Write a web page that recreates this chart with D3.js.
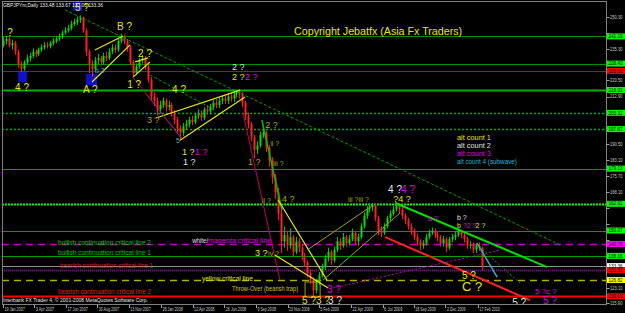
<!DOCTYPE html>
<html><head><meta charset="utf-8">
<script src="https://cdn.jsdelivr.net/npm/d3@7/dist/d3.min.js"></script>
<style>
html,body{margin:0;padding:0;background:#000;}
svg{display:block;}
text{font-family:"Liberation Sans",Arial,sans-serif;}
</style></head><body>
<svg id="c" width="625" height="313"></svg>
<script>
// ---------- DATA ----------
const symbolTitle = "GBPJPYm,Daily  133.48 133.67 133.03 133.36";
const footerText = "Interbank FX Trader 4, \u00a9 2001-2008 MetaQuotes Software Corp.";
const copyrightText = "Copyright Jebatfx (Asia Fx Traders)";
const startDate = "2007-01-19";   // first weekly bar
const lastTickDate = "2010-02-17";
const firstOpen = 237;
// weekly bars
const closes = [239,240,237,238,234,228,226,229,231,232, 234,233,235,236,237,236.5,238,239,240,241,
 243,244,245,247,248,249,250,244,234,228, 226,230,231,229,232,231,234,236,235,239,
 241,239,236,229,224,227,230,231,227,221, 213,211,207,209,211,208,209,205,202,198,
 196,199,200,202,201,204,205,203,207,206, 208,210,209,211,212,211,213,212,214,215,
 214,210,204,200,194,188,190,195,196,189, 183,175,168,158,145,148,143,147,140,145,
 142,138,135,130,127,122,126,129,133,137, 140,136,141,145,143,147,144,146,149,145,
 147,152,157,160,161,162,156,150,149,152, 156,158,160,162,160,157,155,152,150,147,
 145,143,144,147,149,150,148,147,144,146, 142,146,147,148,150,148,146,143,143.5,141,
 143,142,133.36];
const highs = [241,241.5,241,239.5,239,235,229.5,230,232.5,233.5, 235.5,235,236,237.5,238.5,238.5,239,240.5,241.5,242.5,
 244,245.5,246.5,248.5,249.5,250.5,251.1,250.5,245,235, 230,231.5,233,232,233.5,234,235.5,237.5,237.5,240,
 242.5,242,240,237,230,228.5,231,232.5,232,228, 222,215,212.5,211,212.5,212,211,210,206.5,203.5,
 199.5,200.5,202,203.5,204,205,207,206.5,208,209, 209.5,211.5,212,212.5,213.5,214,214.5,215,215.5,216,
 216.5,215,211,205.5,201,195,192,196.5,198,197, 190,184.5,176.5,170,160,152,150,151,148,147,
 146.5,143.5,139.5,136,132,128,127.5,130.5,134.5,138.5, 142,141,142.5,147,146.5,149,148,148,151,150,
 148.5,153.5,158.5,161.5,162.5,163,162.5,157,152,153.5, 157,159.5,161.5,163,162.5,161,158,156,153.5,151,
 148.5,146,145.5,148.5,150.5,151.5,151,149.5,148,147.5, 147,147,148.5,149.5,151,150.5,149,147,145,144.5,
 144,144.5,142.5];
const lows = [236,237.5,236,235,232.5,226.5,224.5,225,228,229.5, 231,231.5,232,234,235,235.5,235.5,237,238,239,
 240,242,243,244,246,246.5,247.5,243,232,224, 222,225,228,227.5,228,229.5,230,233,233.5,234,
 238,237.5,234,227.5,222,223,226,228.5,225.5,219.5, 211,208.5,204,205,207.5,206,206.5,203.5,200,196,
 192.5,194.5,197.5,198.5,199.5,200,202.5,201.5,202,204.5, 204.5,206.5,207.5,207.5,209.5,209.5,209.5,210.5,210.5,212.5,
 212,208,202,198,192,184,186,189,193.5,187, 180,172,165,155,139.5,142,140.5,141.5,138,139,
 140,136,133,128,125,119,120.5,124.5,128,131.5, 135.5,134,135,140,141,142,142.5,143,145,143.5,
 143,146,151,155.5,158.5,159,154.5,148,147,148, 151,154.5,157,159,158,155.5,153,150.5,148,145.5,
 143,141,141.5,143,146,148,146.5,145,142.5,142.5, 140,141,144.5,145.5,147,146.5,144.5,141.5,141.5,139.5,
 139.5,140.5,131.3];
const priceTicks = [250.30,242.80,235.30,227.90,220.50,212.90,205.50,198.00,190.50,183.10,175.70,168.10,160.70,153.10,145.70,138.30,130.70,123.10,115.90];
const dateTicks = ["2007-01-19","2007-04-03","2007-06-17","2007-08-30","2007-11-13","2008-01-28","2008-04-12","2008-06-26","2008-09-09","2008-11-23","2009-02-05","2009-04-22","2009-07-06","2009-09-18","2009-12-02","2010-02-17"];
// horizontal critical levels
const levelPrices = [241.19,228.43,225.00,216.03,205.32,197.67,179.13,162.61,150.07,143.76,138.16,133.36,131.52,126.82,119.19];
// trend lines [week1, price1, week2, price2]
const trendLines = [[21.0,253.6,188.5,143.3],[31.1,234.8,40.6,241.4],[30.1,219.8,43.0,237.2],[44.0,222.1,49.7,229.2],
 [44.7,229.2,49.1,231.1],[51.8,202.9,80.2,216.0],[59.9,192.5,81.9,212.7],[44.0,222.1,60.9,192.5],[48.7,213.7,60.9,192.5],
 [81.2,205.2,93.7,126.8],[87.6,201.9,94.4,159.7],[93.1,164.4,109.6,126.8],[92.0,138.6,110.0,123.1],[102.9,140.9,125.2,162.0],
 [108.3,126.8,134.3,158.3],[129.3,147.0,178.3,117.4],[132.7,163.0,184.1,132.9],[160.4,144.2,167.2,128.2],[111.7,123.1,168.2,140.9],
 [160.4,143.25,175.0,125.4],[49.7,223.1,71.7,206.6]];
// highlight boxes [week1, price1, week2, price2]
const blueBoxes = [[5.1,224.5,8.1,219.8],[23.7,257.3,26.7,253.1],[28.1,223.5,31.8,218.4]];
const throwOverBox = [102.2,125.9,107.3,118.8];
// wave count labels
const noteTexts = ["?","4 ?","5 ?","A ?","B ?","1 ?","2 ?","4 ?","3 ?","1 ?","1 ?","1 ?","2 ?","2 ?","2 ?","2 ?","1 ?","4 ?",
 "4 ?","4 ?","?4 ?","3 ?","5 ?3 ?","3 ?","3 ?","iv ?","5 ?","C ?","5 ?","5 ?","5 ?c ?","b ?","b","?2 ?","2 ?","a ?",
 "ii ?","iii ?","ii ?","iii ?iii ?","5","b 2"];
const noteAt = [[1.4,243.3],[4.1,217.4],[24.4,255.0],[27.1,216.5],[38.6,246.1],[42.0,218.8],[45.7,233.4],[57.2,216.5],[48.7,201.9],
 [60.6,186.9],[65.0,186.9],[60.9,182.2],[77.5,226.8],[77.5,222.1],[81.9,222.1],[88.7,199.6],[82.9,182.2],[94.4,164.8],
 [130.3,169.5],[134.7,169.5],[132.0,164.8],[109.6,122.6],[101.2,117.4],[110.0,117.4],[85.3,139.5],[89.7,139.5],
 [155.3,129.2],[155.3,124.0],[172.3,116.5],[182.7,117.4],[180.0,121.6],[153.6,156.4],[153.6,152.6],[155.6,152.6],[159.9,152.6],[143.8,155.9],
 [90.4,191.1],[91.4,181.7],[87.6,164.4],[116.7,164.8],[58.5,192.1],[31.1,225.4]];
// free text notes
const levelNotes = ["bullish continuation critical line 2","bullish continuation critical line 1","bearish continuation critical line 1",
 "bearish continuation critical line 2","yellow critical line","Throw-Over (bearish trap)","white/","magenta critical line"];
const levelNoteAt = [[18.6,144.6],[18.6,139.5],[19.3,133.4],[18.6,121.2],[67.3,127.7],[77.5,122.6],[64.0,145.1],[69.4,145.1]];
const legendTexts = ["alt count 1","alt count 2","alt count 3","alt count 4 (subwave)"];
const legendAt = [[153.6,193.5],[153.6,189.7],[153.6,186.0],[153.6,182.2]];
const copyrightAt = [98.5,243.7];

// ---------- STYLES ----------
const Y="#e6e600", O="#a8a800", Wt="#e0e0e0", M="#e000e0", Cy="#30b0d0";
const levelStyle = [ // [line color, width, dash, box color]
 ["#009000",1,null,"#00ff00"],["#009000",1,null,"#00ff00"],["#a01818",1,null,"#ff0000"],["#00b000",2,null,"#00ff00"],
 ["#00b000",1.3,"2 2","#00ff00"],["#00b000",1.3,"2 2","#00ff00"],["#00a000",1,null,"#00ff00"],["#00ff00",2,"2 1","#00ff00"],
 ["#00a000",1,null,"#00ff00"],["#c000c0",1.5,"7 5","#ff00ff"],["#00a000",1,null,"#00ff00"],["#909090",1,null,"#ffffff"],
 ["#8a00a0",2,"1 1","#ff0000"],["#b0b000",1.3,"7 5","#ffff00"],["#ff0000",2,null,"#ff0000"]];
const trendStyle = [["#00a000",1,"3 2"],[Y,1.2],[Y,1.2],[Y,1.2],[Y,1.2],[Y,1.2],[Y,1.2],["#c02020",0.8],["#c000c0",0.8],
 ["#c00060",1],["#00c000",1.5],[Y,1.2],[Y,1.2],["#a0a000",1],["#a0a000",1],["#ff2020",2],["#00e000",2],[Cy,1.5],
 ["#c000c0",1,"2 2"],["#00a000",1,"2 2"],["#00a000",1,"3 2"]];
const noteStyle = [[Y,10],[Y,10],[Y,10],[Y,10],[Y,10],[Y,10],[Y,10],[Y,10],[O,9],[Y,9],[M,9],[Wt,9],[Wt,9],[Y,9],[M,9],[O,9],[O,9],[O,9],
 [Wt,10],[M,10],[Y,9],[M,10],[Y,10],[Wt,10],[Y,9],[O,7],[Y,10],[Y,13],[Wt,10],[M,10],[M,8],[Wt,7],[Y,7],[M,7],[Y,7],[M,7],
 [O,7],[O,7],[O,7],[O,7],[Cy,7],[Cy,7]];
const levelNoteStyle = [["#00c000",93],["#00c000",93],["#e02020",93],["#e02020",93],[Y,51],["#c8c800",66],[Wt,16],[M,63]];
const legendStyle = [[Y,34],[Wt,34],[M,34],[Cy,60]];

// ---------- CHART ----------
const svg = d3.select("#c");
const parse = d3.timeParse("%Y-%m-%d");
const t0 = parse(startDate);
const x = d3.scaleTime().domain([t0, parse(lastTickDate)]).range([3, 478]);
const y = d3.scaleLinear().domain([115.9, 250.3]).range([303.3, 17]);
const wx = w => x(d3.timeHour.offset(t0, Math.round(w * 7 * 24)));
const P = {l:2, t:1, r:606, b:304};

svg.append("rect").attr("width",625).attr("height",313).attr("fill","#000");
svg.append("clipPath").attr("id","clip").append("rect")
  .attr("x",P.l).attr("y",P.t).attr("width",P.r-P.l).attr("height",P.b-P.t);
const g = svg.append("g").attr("clip-path","url(#clip)");

// blue boxes (background objects)
g.selectAll(".bb").data(blueBoxes).join("rect")
  .attr("x",d=>wx(d[0])).attr("y",d=>y(d[1]))
  .attr("width",d=>wx(d[2])-wx(d[0])).attr("height",d=>y(d[3])-y(d[1]))
  .attr("fill","#1010c8");

// horizontal levels
g.selectAll(".lv").data(levelPrices).join("line")
  .attr("x1",P.l).attr("x2",P.r).attr("y1",d=>Math.round(y(d))+0.5).attr("y2",d=>Math.round(y(d))+0.5)
  .attr("stroke",(d,i)=>levelStyle[i][0]).attr("stroke-width",(d,i)=>levelStyle[i][1])
  .attr("stroke-dasharray",(d,i)=>levelStyle[i][2]);

// candles
const bars = closes.map((c,i)=>({i, o: i===0 ? firstOpen : closes[i-1], c, h: highs[i], l: lows[i]}));
const cg = g.append("g");
cg.selectAll(".wick").data(bars).join("line")
  .attr("x1",d=>Math.round(wx(d.i))+0.5).attr("x2",d=>Math.round(wx(d.i))+0.5)
  .attr("y1",d=>y(d.h)).attr("y2",d=>y(d.l))
  .attr("stroke",d=>d.c>=d.o?"#00c800":"#ff1a1a").attr("stroke-width",1);
cg.selectAll(".body").data(bars).join("rect")
  .attr("x",d=>Math.round(wx(d.i))-0.5).attr("width",2)
  .attr("y",d=>y(Math.max(d.o,d.c))).attr("height",d=>Math.max(1,Math.abs(y(d.o)-y(d.c))))
  .attr("fill",d=>d.c>=d.o?"#00e000":"#ff2020");

// throw-over box
g.append("rect").attr("x",wx(throwOverBox[0])).attr("y",y(throwOverBox[1]))
  .attr("width",wx(throwOverBox[2])-wx(throwOverBox[0])).attr("height",y(throwOverBox[3])-y(throwOverBox[1]))
  .attr("fill","none").attr("stroke","#a0a000").attr("stroke-width",1);

// trend lines
g.selectAll(".tl").data(trendLines).join("line")
  .attr("x1",d=>wx(d[0])).attr("y1",d=>y(d[1])).attr("x2",d=>wx(d[2])).attr("y2",d=>y(d[3]))
  .attr("stroke",(d,i)=>trendStyle[i][0]).attr("stroke-width",(d,i)=>trendStyle[i][1])
  .attr("stroke-dasharray",(d,i)=>trendStyle[i][2]||null);

// wave labels
g.selectAll(".nt").data(noteTexts).join("text")
  .attr("x",(d,i)=>wx(noteAt[i][0])).attr("y",(d,i)=>y(noteAt[i][1])).attr("dy","0.36em")
  .attr("fill",(d,i)=>noteStyle[i][0]).attr("font-size",(d,i)=>noteStyle[i][1]+"px")
  .text(d=>d);

// level notes
g.selectAll(".ln").data(levelNotes).join("text")
  .attr("x",(d,i)=>wx(levelNoteAt[i][0])).attr("y",(d,i)=>y(levelNoteAt[i][1])).attr("dy","0.36em")
  .attr("fill",(d,i)=>levelNoteStyle[i][0]).attr("font-size","6.5px")
  .attr("textLength",(d,i)=>levelNoteStyle[i][1]).attr("lengthAdjust","spacingAndGlyphs")
  .text(d=>d);

// legend
g.selectAll(".lg").data(legendTexts).join("text")
  .attr("x",(d,i)=>wx(legendAt[i][0])).attr("y",(d,i)=>y(legendAt[i][1])).attr("dy","0.36em")
  .attr("fill",(d,i)=>legendStyle[i][0]).attr("font-size","6.5px")
  .attr("textLength",(d,i)=>legendStyle[i][1]).attr("lengthAdjust","spacingAndGlyphs")
  .text(d=>d);

// copyright
g.append("text").attr("x",wx(copyrightAt[0])).attr("y",y(copyrightAt[1])).attr("dy","0.36em")
  .attr("fill",Y).attr("font-size","10px").attr("textLength",168).attr("lengthAdjust","spacingAndGlyphs")
  .text(copyrightText);

// title & footer
svg.append("text").attr("x",3).attr("y",7).attr("fill","#e8e8e8").attr("font-size","5.5px")
  .attr("textLength",100).attr("lengthAdjust","spacingAndGlyphs").text(symbolTitle);
svg.append("text").attr("x",3).attr("y",301.5).attr("fill","#e8e8e8").attr("font-size","5.5px")
  .attr("textLength",145).attr("lengthAdjust","spacingAndGlyphs").text(footerText);

// border
svg.append("rect").attr("x",P.l+0.5).attr("y",P.t+0.5).attr("width",P.r-P.l).attr("height",P.b-P.t)
  .attr("fill","none").attr("stroke","#808080").attr("stroke-width",1);

// right price axis (labels hidden where a level box covers them)
const freeTicks = priceTicks.filter(t => levelPrices.every(l => Math.abs(y(t)-y(l)) > 6.5));
const ya = svg.append("g");
ya.selectAll("line").data(priceTicks).join("line")
  .attr("x1",P.r+0.5).attr("x2",P.r+3.5).attr("y1",d=>Math.round(y(d))+0.5).attr("y2",d=>Math.round(y(d))+0.5)
  .attr("stroke","#a0a0a0");
ya.selectAll("text").data(freeTicks).join("text")
  .attr("x",P.r+4).attr("y",d=>y(d)).attr("dy","0.36em").attr("fill","#c8c8c8").attr("font-size","5px")
  .attr("textLength",12.5).attr("lengthAdjust","spacingAndGlyphs")
  .text(d=>d3.format(".2f")(d));

// level price boxes
const lb = svg.append("g");
lb.selectAll("rect").data(levelPrices).join("rect")
  .attr("x",P.r+1).attr("y",d=>y(d)-3).attr("width",18).attr("height",6)
  .attr("fill",(d,i)=>levelStyle[i][3]);
lb.selectAll("text").data(levelPrices).join("text")
  .attr("x",P.r+2.5).attr("y",d=>y(d)).attr("dy","0.34em").attr("fill","#000").attr("font-size","5px")
  .attr("textLength",14).attr("lengthAdjust","spacingAndGlyphs")
  .text(d=>d3.format(".2f")(d));

// bottom date axis
const fmt = d3.timeFormat("%-d %b %Y");
const xa = svg.append("g");
xa.selectAll("line").data(dateTicks).join("line")
  .attr("x1",d=>Math.round(x(parse(d)))+0.5).attr("x2",d=>Math.round(x(parse(d)))+0.5)
  .attr("y1",P.b+1).attr("y2",P.b+4).attr("stroke","#a0a0a0");
xa.selectAll("text").data(dateTicks).join("text")
  .attr("x",d=>x(parse(d))+1.5).attr("y",310.5).attr("fill","#c8c8c8").attr("font-size","5.5px")
  .attr("textLength",d=>fmt(parse(d)).length*1.85).attr("lengthAdjust","spacingAndGlyphs")
  .text(d=>fmt(parse(d)));
</script>
</body></html>
